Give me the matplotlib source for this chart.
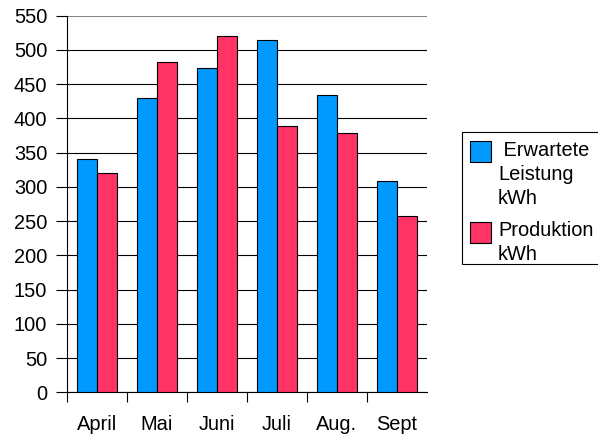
import matplotlib
matplotlib.use("Agg")
import matplotlib.pyplot as plt
from matplotlib.patches import Rectangle
import numpy as np

plt.rcParams['font.family'] = ['Liberation Sans', 'DejaVu Sans']

categories = ["April", "Mai", "Juni", "Juli", "Aug.", "Sept"]
erwartet = [340, 430, 474, 514, 434, 308]
produktion = [321, 483, 520, 389, 379, 257]
yticks = [0, 50, 100, 150, 200, 250, 300, 350, 400, 450, 500, 550]
legend_labels = [" Erwartete\nLeistung\nkWh", "Produktion\nkWh"]

blue = "#0099FF"
red = "#FF3366"

fig = plt.figure(figsize=(5.98, 4.36), dpi=100)
ax = fig.add_axes([66.7/598, 1-392.3/436, 360/598, (392.3-15.7)/436])

x = np.arange(len(categories))
w = 1/3
ax.bar(x - w/2, erwartet, w, color=blue, edgecolor="black", linewidth=0.8, zorder=3)
ax.bar(x + w/2, produktion, w, color=red, edgecolor="black", linewidth=0.8, zorder=3)

ax.set_xlim(-0.5, len(categories) - 0.5)
ax.set_ylim(0, 550)
ax.set_yticks(yticks)
ax.set_yticklabels([str(v) for v in yticks], fontsize=14.4)
ax.tick_params(axis='y', direction='out', length=7.7, width=0.8, pad=6.3, color='black')

ax.yaxis.grid(True, color='black', linewidth=0.8, zorder=0)
gl = ax.get_ygridlines()
gl[-1].set_color('#808080')
gl[-1].set_linewidth(1.4)

ax.set_xticks(np.arange(len(categories)) - 0.5)
ax.set_xticklabels([])
ax.tick_params(axis='x', which='major', direction='out', length=7.5, width=0.8, color='black')
ax.set_xticks(x, minor=True)
ax.set_xticklabels(categories, minor=True, fontsize=14.4)
ax.tick_params(axis='x', which='minor', length=0, pad=16)

for s in ['top', 'right']:
    ax.spines[s].set_visible(False)
for s in ['left', 'bottom']:
    ax.spines[s].set_linewidth(0.8)
    ax.spines[s].set_color('black')
ax.set_axisbelow(True)

# legend (manual, to match reference layout)
W, H = 598, 436
def fx(px):
    return px / W
def fy(py):
    return 1 - py / H

fig.patches.append(Rectangle((fx(461.5), fy(264)), fx(598 - 461.5 + 30), (264 - 131.7) / H,
                             transform=fig.transFigure, facecolor='white',
                             edgecolor='black', linewidth=0.8, clip_on=False))
fig.patches.append(Rectangle((fx(469.5), fy(162.3)), 21/W, 21.5/H,
                             transform=fig.transFigure, facecolor=blue,
                             edgecolor='black', linewidth=0.8))
fig.patches.append(Rectangle((fx(469.5), fy(242.7)), 21/W, 20.7/H,
                             transform=fig.transFigure, facecolor=red,
                             edgecolor='black', linewidth=0.8))
fig.text(fx(498), fy(141.5), legend_labels[0], fontsize=14.4, va='top', ha='left',
         linespacing=1.3)
fig.text(fx(498), fy(221), legend_labels[1], fontsize=14.4, va='top', ha='left',
         linespacing=1.3)

fig.savefig("out.png", dpi=100)
